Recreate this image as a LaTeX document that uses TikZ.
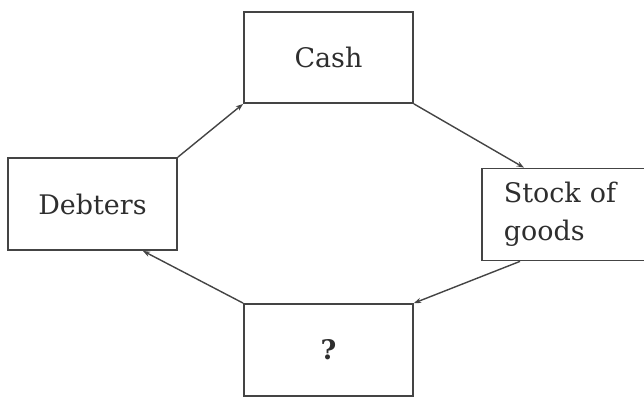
\documentclass[tikz,border=0pt]{standalone}
\usepackage{fontspec}
\setmainfont{DejaVu Serif}
\usepackage{tikz}
\usetikzlibrary{arrows.meta,positioning}
\definecolor{CCLine}{HTML}{444444}
\definecolor{CCInk}{HTML}{2E2E2E}
\tikzset{
  flow/.style={-{Stealth[length=2.2mm,width=1.6mm]},CCLine,line width=1.2pt},
  stage/.style={draw=CCLine,line width=1.5pt,fill=white,text=CCInk,
                minimum width=5.07cm,minimum height=2.76cm,inner sep=1mm,
                font=\fontsize{23}{32}\selectfont},
}
\begin{document}
\begin{tikzpicture}[x=0.03cm,y=-0.03cm]
    \useasboundingbox (0,0) rectangle (644,399);

    % ---------------------------------------------------------------- four stages
    \node[stage,minimum height=2.73cm]         (cash)    at (328.5,57.5) {Cash};
    \node[stage]                               (debters) at (92.5,204)   {Debters};
    \node[stage,anchor=west,align=left,text width=4.6cm,
          inner xsep=0.66cm]                   (stock)   at (481,214.5)  {Stock of\\goods};
    \node[stage,font=\fontsize{23}{32}\selectfont\bfseries] (unknown) at (328.5,350) {?};

    % ---------------------------------------------------------------- the cycle
    \draw[flow] (debters.north east) -- (cash.south west);
    \draw[flow] (cash.south east) -- ([xshift=1.29cm]stock.north west);
    \draw[flow] ([xshift=1.17cm]stock.south west) -- (unknown.north east);
    \draw[flow] (unknown.north west) -- ([xshift=-1.05cm]debters.south east);
\end{tikzpicture}
\end{document}
